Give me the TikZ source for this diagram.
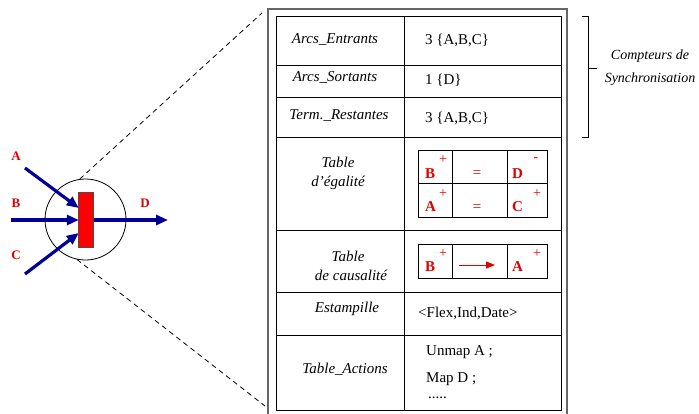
\documentclass[tikz,border=0pt]{standalone}
\usepackage{fontspec}
\setmainfont{Liberation Serif}
\usetikzlibrary{arrows.meta}
\definecolor{navy}{RGB}{0,0,150}
\definecolor{lred}{RGB}{225,0,0}
\begin{document}
\begin{tikzpicture}[x=1pt,y=-1pt,
  lbl/.style={font=\fontsize{15}{19}\selectfont\itshape, inner sep=0pt, align=center},
  val/.style={font=\fontsize{15}{19}\selectfont, inner sep=0pt, anchor=west},
  arr/.style={draw=navy, line width=3.2pt, -{Triangle[length=12pt,width=10pt]}},
  arclbl/.style={font=\fontsize{13}{15}\selectfont\bfseries, text=lred, inner sep=0pt},
  sym/.style={font=\fontsize{15}{18}\selectfont\bfseries, text=lred, inner sep=0pt, anchor=base west},
  sgn/.style={font=\fontsize{14}{16}\selectfont, text=lred, inner sep=0pt},
  eq/.style={font=\fontsize{15}{18}\selectfont, text=lred, inner sep=0pt},
  grid/.style={draw=black, line width=0.9pt},
  dashline/.style={draw=black, line width=0.8pt, dash pattern=on 5pt off 4pt},
]
\useasboundingbox (0,0) rectangle (699,413);

% ---- left: node with arcs ----
\node[circle, draw, line width=0.8pt, minimum size=81pt, inner sep=0pt] (circ) at (85.5,219.5) {};
\coordinate (a0) at (25,168);
\coordinate (b0) at (11,220);
\coordinate (c0) at (25,274);
\coordinate (d1) at (168,220);
\node[minimum width=14pt, minimum height=54pt, inner sep=0pt] (gate) at (86,220) {};
\draw[arr] (a0) -- ([yshift=12pt]gate.west);
\draw[arr] (b0) -- (gate.west);
\draw[arr] (c0) -- ([yshift=-13pt]gate.west);
\draw[arr] (gate.east) -- (d1);
\filldraw[draw=black!70, line width=0.8pt, fill=red] (gate.south west) rectangle (gate.north east);

\node[arclbl] (la) at (16,156) {A};
\node[arclbl] (lb) at (16,203) {B};
\node[arclbl] (lc) at (16,255) {C};
\node[arclbl] (ld) at (145,203) {D};

% ---- dashed zoom lines ----
\coordinate (dt) at (262,13);
\coordinate (db) at (265,406);
\draw[dashline] (circ.98) -- (dt);
\draw[dashline] (circ.258) -- (db);

% ---- frames ----
\draw[line width=1.6pt, draw=black!60] (268,414) -- (268,9) -- (567,9) -- (567,414);
\draw[grid] (276,16) rectangle (561,410);
\foreach \yy in {65,97,137,230,292,335} \draw[grid] (276,\yy) -- (561,\yy);
\draw[grid] (404,16) -- (404,410);

% ---- left column ----
\node[lbl] (t1) at (335,40) {Arcs\_Entrants};
\node[lbl] (t2) at (335,77) {Arcs\_Sortants};
\node[lbl] (t3) at (339,116) {Term.\_Restantes};
\node[lbl] (t4) at (338,173) {Table\\d’égalité};
\node[lbl] (t5) at (348,266) {Table\\\hspace*{6pt}de causalité};
\node[lbl] (t6) at (347,309) {Estampille};
\node[lbl] (t7) at (345,369) {Table\_Actions};

% ---- right column ----
\node[val] (v1) at (425,40) {3 \{A,B,C\}};
\node[val] (v2) at (425,80) {1 \{D\}};
\node[val] (v3) at (425,118) {3 \{A,B,C\}};
\node[val] (v6) at (418,313) {<Flex,Ind,Date>};
\node[val] (v7a) at (426,352) {Unmap A ;};
\node[val] (v7b) at (426,379) {Map D ;};
\node[val] (v7c) at (428,398) {.....};

% ---- table d'egalite ----
\draw[grid] (418,150) rectangle (547,217);
\draw[grid] (418,183) -- (547,183);
\draw[grid] (452,150) -- (452,217);
\draw[grid] (507,150) -- (507,217);
\node[sym] (eb) at (425,178) {B};
\node[sgn] (ebp) at (443,160) {+};
\node[eq] (ee1) at (477,174) {=};
\node[sym] (ed) at (512,178) {D};
\node[sgn] (edm) at (536,160) {-};
\node[sym] (ea) at (425,211) {A};
\node[sgn] (eap) at (443,194) {+};
\node[eq] (ee2) at (477,208) {=};
\node[sym] (ec) at (512,211) {C};
\node[sgn] (ecp) at (537,194) {+};

% ---- table de causalite ----
\draw[grid] (418,244) rectangle (547,278);
\draw[grid] (452,244) -- (452,278);
\draw[grid] (507,244) -- (507,278);
\node[sym] (cb) at (425,271) {B};
\node[sgn] (cbp) at (443,254) {+};
\coordinate (ca0) at (459,265);
\coordinate (ca1) at (495,265);
\draw[draw=lred, line width=1pt, -{Triangle[length=9pt,width=7pt]}] (ca0) -- (ca1);
\node[sym] (ca) at (512,271) {A};
\node[sgn] (cap) at (537,254) {+};

% ---- bracket ----
\draw[line width=0.9pt] (582,16) -- (588,16) -- (588,137) -- (582,137);
\coordinate (bm) at (588,68);
\coordinate (bt) at (597,68);
\draw[line width=0.9pt] (bm) -- (bt);
\node[font=\fontsize{14}{23}\selectfont\itshape, align=center, inner sep=0pt] (comp) at (650,68) {Compteurs de\\Synchronisation};
\end{tikzpicture}
\end{document}
